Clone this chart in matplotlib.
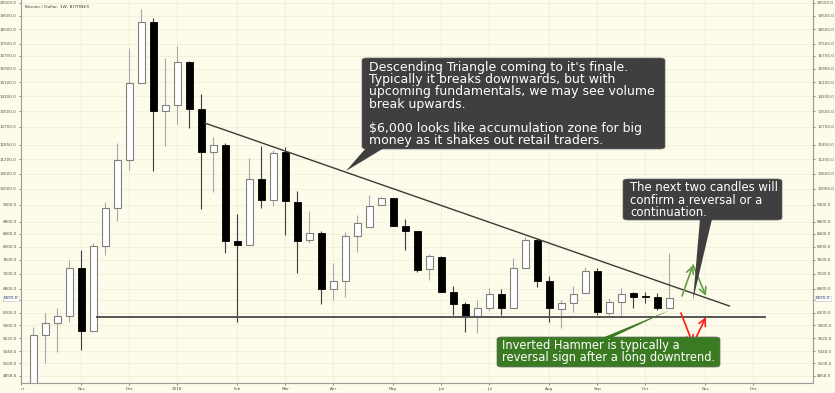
import matplotlib
matplotlib.use('Agg')
import matplotlib.pyplot as plt
import matplotlib.dates as mdates
import numpy as np
import pandas as pd
from matplotlib.patches import FancyBboxPatch, Polygon
from matplotlib.ticker import FixedLocator, NullLocator
from matplotlib.transforms import Bbox, TransformedBbox

# weekly candles, Bitfinex BTC/USD
week_start = '2017-10-09'
opens = [4600, 5685, 5960, 6120, 7360, 5770, 8010, 9290, 11170, 15040, 19030, 13500,
         13820, 16310, 13610, 11520, 11840, 8170, 8050, 10380, 9574, 11520, 9510, 8200,
         8430, 6790, 7000, 8330, 8630, 9380, 9650, 8660, 8500, 7330, 7680, 6710,
         6410, 6120, 6310, 6660, 6310, 7360, 8200, 7000, 6290, 6430, 6690, 7280,
         6190, 6460, 6690, 6600, 6580, 6310]
highs = [5870, 6190, 6310, 7590, 7890, 8100, 9510, 11920, 17220, 19990, 19330, 16570,
         17350, 16370, 14420, 12210, 11920, 9070, 11250, 11800, 11610, 11740, 9910, 9180,
         8490, 7510, 8460, 9030, 9760, 9700, 9650, 8900, 8500, 7770, 7700, 6870,
         6450, 6508, 6820, 6790, 7650, 8290, 8270, 7150, 6500, 6870, 7380, 7360,
         6560, 6820, 6720, 6720, 6690, 7800]
lows = [4560, 5100, 5320, 5980, 5365, 5770, 7740, 8830, 10750, 15040, 10710, 11780,
        12860, 12660, 9250, 9880, 7800, 5980, 8050, 9290, 9350, 8360, 7220, 8100,
        6410, 6508, 6580, 7840, 8630, 9380, 8660, 7890, 7250, 7030, 6710, 6150,
        5760, 5730, 6240, 6150, 6310, 7360, 6840, 5980, 5850, 6210, 6690, 6150,
        6140, 6150, 6320, 6440, 6260, 6310]
closes = [5685, 5950, 6120, 7360, 5770, 8010, 9290, 11170, 15040, 19030, 13500, 13820,
          16310, 13610, 11520, 11840, 8170, 8050, 10380, 9574, 11480, 9540, 8170, 8430,
          6790, 7000, 8330, 8760, 9350, 9650, 8660, 8500, 7310, 7710, 6710, 6410,
          6120, 6310, 6660, 6310, 7360, 8200, 7000, 6300, 6430, 6660, 7280, 6210,
          6460, 6660, 6580, 6580, 6310, 6555]
last_price = 6555.0

# drawn lines
trend_dates = ['2018-01-17', '2018-11-19']
trend_prices = [12890, 6360]
support_dates = ['2017-11-15', '2018-12-10']
support_prices = [6100, 6100]

price_ticks = [20500, 19500, 18500, 17500, 16700, 15900, 15100, 14300, 13500, 12700,
               11850, 11200, 10600, 10000, 9400, 8800, 8400, 8000, 7600, 7200, 6800,
               6500, 6200, 5900, 5620, 5340, 5100, 4858]
month_dates = ['2017-10-02', '2017-11-06', '2017-12-04', '2018-01-01', '2018-02-05',
               '2018-03-05', '2018-04-02', '2018-05-07', '2018-06-04', '2018-07-02',
               '2018-08-06', '2018-09-03', '2018-10-01', '2018-11-05', '2018-12-03']
month_labels = ['Oct', 'Nov', 'Dec', '2018', 'Feb', 'Mar', 'Apr', 'May', 'Jun', 'Jul',
                'Aug', 'Sep', 'Oct', 'Nov', 'Dec']

note_main = ("Descending Triangle coming to it's finale.\n"
             "Typically it breaks downwards, but with\n"
             "upcoming fundamentals, we may see volume\n"
             "break upwards.\n\n"
             "$6,000 looks like accumulation zone for big\n"
             "money as it shakes out retail traders.")
note_next = "The next two candles will\nconfirm a reversal or a\ncontinuation."
note_hammer = "Inverted Hammer is typically a\nreversal sign after a long downtrend."

BG = '#fdfbea'
W, H = 835, 393
fig = plt.figure(figsize=(W / 100, H / 100), dpi=100, facecolor=BG)
ax = fig.add_axes([21 / W, 10 / H, 792 / W, 383 / H], facecolor=BG)


def px(x, y):
    # pixel position of the picture -> axes fraction
    return ((x - 21) / 792, (383 - y) / 383)


dates = mdates.date2num(pd.date_range(week_start, periods=len(opens), freq='7D'))
o, h, l, c = map(np.array, (opens, highs, lows, closes))
up = c >= o
body_w = 4.4

ax.vlines(dates[up], l[up], h[up], color='#a8a8a8', lw=0.8, zorder=2)
ax.vlines(dates[~up], l[~up], h[~up], color='#3c3c3c', lw=0.8, zorder=2)
ax.bar(dates[up], np.abs(c - o)[up], bottom=np.minimum(o, c)[up], width=body_w,
       color='white', edgecolor='#808080', lw=0.8, zorder=3)
ax.bar(dates[~up], np.maximum(np.abs(c - o), 15)[~up], bottom=np.minimum(o, c)[~up],
       width=body_w, color='black', edgecolor='black', lw=0.6, zorder=3)

ax.plot(mdates.datestr2num(trend_dates), trend_prices, color='#3a3a3a', lw=1.0, zorder=4)
ax.plot(mdates.datestr2num(support_dates), support_prices, color='#555555', lw=1.4, zorder=4)

ax.set_yscale('log')
ax.set_ylim(4724, 20724)
x0 = mdates.datestr2num(week_start)
ax.set_xlim(x0 - 7.2, x0 + 454.8)

ax.yaxis.set_major_locator(FixedLocator(price_ticks))
ax.yaxis.set_minor_locator(NullLocator())
ax.set_yticklabels([f'{p:.1f}' for p in price_ticks])
ax.set_xticks(mdates.datestr2num(month_dates))
ax.set_xticklabels(month_labels)
ax.tick_params(axis='both', labelsize=3, colors='#555555', length=1.5, width=0.5, pad=1.5)
ax.tick_params(axis='y', right=True, labelright=True)
ax.grid(True, color='#f1eddb', lw=0.6, zorder=0)
for s in ('left', 'right', 'bottom'):
    ax.spines[s].set_color('#9a9a9a')
    ax.spines[s].set_linewidth(0.8)
ax.spines['top'].set_visible(False)

# first month label is cut by the pane edge
lbl = ax.xaxis.get_major_ticks()[0].label1
lbl.set_clip_box(TransformedBbox(Bbox([[21 / W, 0], [1, 1]]), fig.transFigure))
lbl.set_clip_on(True)

# last price tags on both scales
for xa, ha in ((0, 'right'), (1, 'left')):
    ax.annotate(f'{last_price:.1f}', xy=(xa, last_price), xycoords=('axes fraction', 'data'),
                xytext=(-2 if xa == 0 else 2, 0), textcoords='offset points',
                ha=ha, va='center', fontsize=3, color='#2f3f5f',
                bbox=dict(boxstyle='square,pad=0.15', fc='white', ec='#c8cdd8', lw=0.4))

fig.text(25 / W, 1 - 7 / H, 'Bitcoin / Dollar, 1W, BITFINEX', fontsize=3.2,
         color='#444444', va='center')


def callout(x1, y1, x2, y2, color, pointer):
    bx, by = px(x1, y2)
    bw = (x2 - x1) / 792
    bh = (y2 - y1) / 383
    ax.add_patch(FancyBboxPatch((bx, by), bw, bh, boxstyle='round,pad=0,rounding_size=0.006',
                                transform=ax.transAxes, fc=color, ec='#6a6a6a', lw=0.5,
                                clip_on=False, zorder=6))
    ax.add_patch(Polygon([px(*p) for p in pointer], closed=True, transform=ax.transAxes,
                         fc=color, ec='none', clip_on=False, zorder=6))


callout(362, 58, 665, 149, '#3f3f3f', [(366, 148), (384, 148), (346, 171)])
ax.text(*px(369, 61), note_main, transform=ax.transAxes, ha='left', va='top',
        fontsize=9.0, color='white', linespacing=0.92, zorder=7)

callout(623, 179, 782, 220, '#3f3f3f', [(700, 219), (712, 219), (693, 300)])
ax.text(*px(630, 181), note_next, transform=ax.transAxes, ha='left', va='top',
        fontsize=8.4, color='white', linespacing=0.95, zorder=7)

callout(497, 337, 720, 367, '#3a7b22', [(602, 338), (611, 338), (670, 310)])
ax.text(*px(502, 339), note_hammer, transform=ax.transAxes, ha='left', va='top',
        fontsize=8.3, color='white', linespacing=0.95, zorder=7)


def arrow(a, b, color):
    ax.annotate('', xy=px(*b), xytext=px(*a), xycoords='axes fraction',
                arrowprops=dict(arrowstyle='->,head_length=0.5,head_width=0.25', color=color,
                                lw=1.2, shrinkA=0, shrinkB=0), zorder=5)


arrow((682, 296), (693, 265), '#63a045')
arrow((693, 265), (706, 296), '#63a045')
arrow((681, 313), (693, 344), '#ff1a1a')
arrow((693, 344), (706, 317), '#ff1a1a')

fig.savefig('out.png', dpi=100, facecolor=BG)
